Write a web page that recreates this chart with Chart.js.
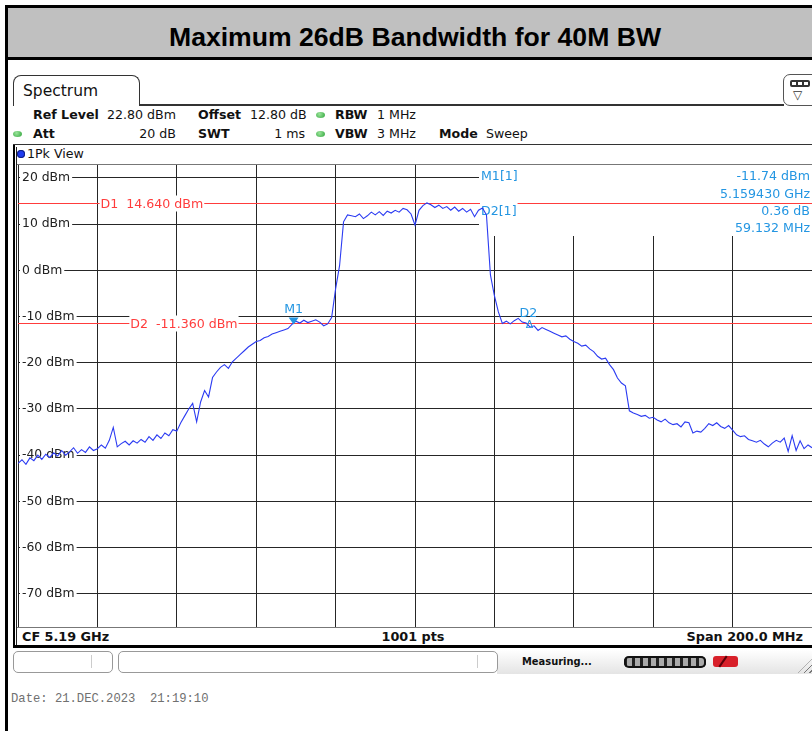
<!DOCTYPE html>
<html>
<head>
<meta charset="utf-8">
<script src="https://cdn.jsdelivr.net/npm/chart.js@4.4.0/dist/chart.umd.min.js"></script>
<style>
  body { margin: 0; width: 812px; height: 731px; overflow: hidden; background: #fff; position: relative; font-family: "DejaVu Sans", sans-serif; color: #111; }
  .abs { position: absolute; }
  #frame { left: 5px; top: 5px; width: 830px; height: 760px; border-left: 3px solid #000; border-top: 3px solid #000; }
  #titlebar { left: 8px; top: 8px; width: 814px; height: 49px; background: #c0c0c0; border-bottom: 3px solid #000;
    font: bold 26.6px "Liberation Sans", Arial, sans-serif; text-align: center; line-height: 59px; color: #000; }
  #tab { left: 13px; top: 75px; width: 125px; height: 30px; border: 1.5px solid #333; border-bottom: none; border-radius: 8px 8px 0 0; }
  #tab span { position: absolute; left: 9px; top: 6px; font-size: 15.5px; }
  .hl { height: 0; border-top: 2px solid #333; }
  .row { font-size: 12.6px; white-space: nowrap; line-height: 16px; }
  .row b { font-weight: bold; }
  .dot { width: 9px; height: 6px; border-radius: 50%; background: radial-gradient(circle at 40% 35%, #9be59b, #2ea33a); }
  #icon { left: 783px; top: 74px; width: 34px; height: 30px; border: 1.5px solid #555; border-radius: 7px; background: #fff; }
  .foot { font-weight: bold; font-size: 12.8px; white-space: nowrap; line-height: 16px; }
  .sbox { border: 1px solid #999; border-radius: 5px; background: #fff; height: 20px; top: 651px; }
  #date { left: 11px; top: 692px; font: 12.2px "Liberation Mono", monospace; color: #707070; white-space: pre; }
</style>
</head>
<body>
<div id="frame" class="abs"></div>
<div id="titlebar" class="abs">Maximum 26dB Bandwidth for 40M BW</div>

<div id="tab" class="abs"><span>Spectrum</span></div>
<div class="abs hl" style="left:139px; top:104px; width:645px;"></div>
<div id="icon" class="abs">
  <div class="abs" style="left:6px; top:5px; width:20px; height:7px; background:#333; border-radius:2px;"></div>
  <div class="abs" style="left:8px; top:7px; width:4px; height:3px; background:#fff;"></div>
  <div class="abs" style="left:14px; top:7px; width:4px; height:3px; background:#fff;"></div>
  <div class="abs" style="left:20px; top:7px; width:4px; height:3px; background:#fff;"></div>
  <div class="abs" style="left:9px; top:13px; font-size:12px; color:#333;">▽</div>
</div>

<div class="abs row" style="left:33px; top:107px;"><b>Ref Level</b></div>
<div class="abs row" style="left:107px; top:107px;">22.80 dBm</div>
<div class="abs row" style="left:198px; top:107px;"><b>Offset</b></div>
<div class="abs row" style="left:250px; top:107px;">12.80 dB</div>
<div class="abs dot" style="left:316px; top:112px;"></div>
<div class="abs row" style="left:335px; top:107px;"><b>RBW</b></div>
<div class="abs row" style="left:377px; top:107px;">1 MHz</div>

<div class="abs dot" style="left:13px; top:131px;"></div>
<div class="abs row" style="left:33px; top:126px;"><b>Att</b></div>
<div class="abs row" style="left:116px; top:126px; width:60px; text-align:right;">20 dB</div>
<div class="abs row" style="left:198px; top:126px;"><b>SWT</b></div>
<div class="abs row" style="left:245px; top:126px; width:60px; text-align:right;">1 ms</div>
<div class="abs dot" style="left:316px; top:131px;"></div>
<div class="abs row" style="left:335px; top:126px;"><b>VBW</b></div>
<div class="abs row" style="left:377px; top:126px;">3 MHz</div>
<div class="abs row" style="left:439px; top:126px;"><b>Mode</b></div>
<div class="abs row" style="left:486px; top:126px;">Sweep</div>

<div class="abs hl" style="left:13px; top:144px; width:820px; border-top-width:1.5px;"></div>
<div class="abs" style="left:13px; top:145px; width:2px; height:502px; background:#000;"></div>
<div class="abs" style="left:16px; top:147px; width:1px; height:500px; background:#222;"></div>
<div class="abs" style="left:17px; top:150px; width:8px; height:8px; border-radius:50%; background:#1f3cf0; box-shadow: inset 0 0 0 1px #102080;"></div>
<div class="abs row" style="left:27px; top:146px;">1Pk View</div>
<div class="abs" style="left:17px; top:164px; width:800px; height:1px; background:#777;"></div>

<div class="abs" style="left:18px; top:165px; width:794px; height:462px;">
  <canvas id="spec" width="794" height="462"></canvas>
</div>

<div class="abs" style="left:17px; top:627px; width:800px; height:1px; background:#777;"></div>
<div class="abs foot" style="left:22px; top:629px;">CF 5.19 GHz</div>
<div class="abs foot" style="left:313px; top:629px; width:200px; text-align:center;">1001 pts</div>
<div class="abs foot" style="left:603px; top:629px; width:200px; text-align:right;">Span 200.0 MHz</div>
<div class="abs" style="left:13px; top:645px; width:820px; height:3px; background:#000;"></div>

<div class="abs" style="left:497px; top:650px; width:320px; height:24px; background:linear-gradient(#ffffff, #e4e4e4);"></div>
<div class="abs sbox" style="left:13px; width:98px;"></div>
<div class="abs" style="left:91px; top:655px; width:1px; height:13px; background:#ccc;"></div>
<div class="abs sbox" style="left:118px; width:378px;"></div>
<div class="abs" style="left:477px; top:655px; width:1px; height:13px; background:#ccc;"></div>
<div class="abs" style="left:522px; top:655px; font: bold 11px 'DejaVu Sans Condensed', 'DejaVu Sans', sans-serif; white-space:nowrap;">Measuring...</div>
<div class="abs" style="left:624px; top:656px; width:82px; height:12px; border-radius:5px; background:repeating-linear-gradient(90deg, #222 0 3px, #aaa 3px 8px); box-shadow: inset 0 0 0 2px #111;"></div>
<div class="abs" style="left:713px; top:656px; width:25px; height:11px; border-radius:3px; background:#d8202a;"></div>
<div class="abs" style="left:722px; top:655px; width:2px; height:13px; background:#5a0008; transform:rotate(35deg);"></div>
<div class="abs" style="left:798px; top:657px; width:16px; height:16px; background:repeating-linear-gradient(135deg, transparent 0 3px, #777 3px 4px); clip-path: polygon(100% 0, 100% 100%, 0 100%);"></div>

<div id="date" class="abs">Date: 21.DEC.2023  21:19:10</div>

<script>
// sweep: CF 5190 MHz, span 200 MHz
const startMHz = 5090;
const stepMHz = 1;
const spanMHz = 200;
const refLevel = 22.8;

// trace level, one value per MHz from 5090 to 5290
const traceDbm = [
  -41.8, -41.0, -42.0, -40.6, -41.2, -40.0, -40.9, -39.8, -40.5, -39.5,
  -40.2, -39.0, -40.0, -39.3, -38.4, -39.6, -38.8, -39.4, -38.2, -39.0,
  -38.6, -37.8, -38.5, -36.8, -34.0, -38.2, -37.5, -37.0, -37.8, -36.9,
  -37.4, -36.6, -37.2, -36.0, -36.8, -35.6, -36.4, -35.2, -35.8, -34.5,
  -34.8, -33.0, -31.5, -30.0, -28.8, -32.8, -28.5, -26.0, -27.4, -23.2,
  -22.0, -21.0, -20.4, -21.2, -19.8, -19.0, -18.2, -17.4, -16.6, -16.0,
  -15.4, -15.2, -14.6, -14.3, -13.8, -13.5, -13.2, -12.9, -12.6, -11.7,
  -11.0, -11.4, -10.8, -11.3, -11.0, -10.7, -11.2, -12.0, -11.6, -10.2,
  -4.0, 1.0, 10.5, 12.0, 11.8, 11.6, 12.2, 11.2, 11.8, 12.6,
  12.0, 12.7, 11.9, 12.8, 12.4, 13.0, 12.6, 13.4, 13.1, 12.2,
  9.8, 13.0, 14.0, 14.6, 14.2, 13.6, 14.1, 13.4, 13.8, 13.0,
  13.7, 12.8, 13.4, 12.6, 13.2, 11.6, 13.0, 13.5, 12.0, -1.0,
  -5.5, -9.0, -11.5, -11.0, -11.6, -10.9, -10.4, -11.2, -11.4, -12.3,
  -12.0, -13.0, -12.4, -12.8, -13.2, -13.6, -14.0, -14.4, -14.2, -14.9,
  -15.4, -15.8, -16.4, -16.2, -17.0, -17.6, -18.6, -19.2, -19.0, -20.4,
  -21.5, -23.3, -24.4, -25.0, -30.4, -30.9, -31.2, -31.6, -31.4, -32.0,
  -31.8, -32.4, -32.8, -32.2, -33.0, -33.4, -33.2, -33.9, -32.8, -33.0,
  -35.2, -34.8, -35.0, -34.2, -33.2, -33.6, -33.0, -33.8, -34.2, -33.6,
  -34.6, -35.6, -36.0, -35.8, -36.6, -36.9, -37.2, -36.8, -37.6, -38.2,
  -37.4, -36.8, -37.2, -36.3, -39.2, -35.8, -39.0, -36.9, -38.6, -37.8,
  -38.4
];

const freqTicks = [5090, 5110, 5130, 5150, 5170, 5190, 5210, 5230, 5250, 5270, 5290];
const levelTicks = [20, 10, 0, -10, -20, -30, -40, -50, -60, -70];

const displayLines = [
  { name: "D1", level: 14.64, labelFreq: 5110.8 },
  { name: "D2", level: -11.36, labelFreq: 5118.3 }
];
const markerM1 = { name: "M1", freq: 5159.43, level: -11.74 };
const markerD2 = { name: "D2", freq: 5218.562, level: -11.38 };
const markerInfo = [
  ["M1[1]", "-11.74 dBm"],
  ["", "5.159430 GHz"],
  ["D2[1]", "0.36 dB"],
  ["", "59.132 MHz"]
];

const traceColor = "#2b3bf2";
const gridColor = "#262626";
const lineRed = "#ff3c3c";
const markerBlue = "#2496e2";
const uiFont = '12.6px "DejaVu Sans"';

const points = traceDbm.map((v, i) => ({ x: startMHz + i * stepMHz, y: v }));

function labelWithBack(ctx, text, x, y, color) {
  const w = ctx.measureText(text).width;
  ctx.fillStyle = "#fff";
  ctx.fillRect(x - 1, y - 8, w + 2, 16);
  ctx.fillStyle = color;
  ctx.fillText(text, x, y + 1);
}

const overlay = {
  id: "overlay",
  beforeDatasetsDraw(chart) {
    const { ctx, chartArea: a, scales: { x, y } } = chart;
    ctx.save();
    ctx.font = uiFont;
    ctx.textBaseline = "middle";

    // marker info field hides the grid in the upper right corner
    const boxLeft = a.right - 333;
    ctx.fillStyle = "#fff";
    ctx.fillRect(boxLeft, a.top, a.right - boxLeft, 71);

    displayLines.forEach(d => {
      const py = Math.round(y.getPixelForValue(d.level)) + 0.5;
      ctx.strokeStyle = lineRed;
      ctx.lineWidth = 1;
      ctx.beginPath();
      ctx.moveTo(a.left, py);
      ctx.lineTo(a.right, py);
      ctx.stroke();
      ctx.textAlign = "left";
      labelWithBack(ctx, `${d.name}  ${d.level.toFixed(3)} dBm`, x.getPixelForValue(d.labelFreq), py, lineRed);
    });

    markerInfo.forEach(([left, right], i) => {
      const py = a.top + 11 + i * 17.4;
      if (left) {
        ctx.textAlign = "left";
        labelWithBack(ctx, left, boxLeft + 2, py, markerBlue);
      }
      ctx.textAlign = "right";
      ctx.fillStyle = markerBlue;
      ctx.fillText(right, a.right - 2, py + 1);
    });
    ctx.restore();
  },
  afterDatasetsDraw(chart) {
    const { ctx, scales: { x, y } } = chart;
    ctx.save();
    ctx.font = uiFont;
    ctx.textAlign = "center";
    ctx.textBaseline = "middle";

    const mx = x.getPixelForValue(markerM1.freq);
    const my = y.getPixelForValue(markerM1.level);
    ctx.fillStyle = markerBlue;
    ctx.beginPath();
    ctx.moveTo(mx - 5, my - 7);
    ctx.lineTo(mx + 5, my - 7);
    ctx.lineTo(mx, my);
    ctx.closePath();
    ctx.fill();
    ctx.fillText(markerM1.name, mx, my - 15);

    const dx = x.getPixelForValue(markerD2.freq);
    const dy = y.getPixelForValue(markerD2.level);
    ctx.fillText(markerD2.name, dx, dy - 9);
    ctx.font = '11px "DejaVu Sans"';
    ctx.fillText("Δ", dx + 1, dy + 2);
    ctx.restore();
  }
};

new Chart(document.getElementById("spec"), {
  type: "line",
  data: {
    datasets: [{
      data: points,
      borderColor: traceColor,
      borderWidth: 1.1,
      pointRadius: 0,
      tension: 0,
      fill: false
    }]
  },
  options: {
    responsive: false,
    animation: false,
    events: [],
    layout: { padding: 0 },
    plugins: { legend: { display: false }, tooltip: { enabled: false } },
    scales: {
      x: {
        type: "linear",
        min: startMHz,
        max: startMHz + spanMHz,
        afterBuildTicks: s => { s.ticks = freqTicks.map(value => ({ value })); },
        afterFit: s => { s.height = 0; s.paddingLeft = 0; s.paddingRight = 0; },
        ticks: { display: false },
        grid: { color: gridColor, lineWidth: 1, drawTicks: false },
        border: { display: false }
      },
      y: {
        min: refLevel - 100,
        max: refLevel,
        afterBuildTicks: s => { s.ticks = levelTicks.map(value => ({ value })); },
        afterFit: s => { s.width = 0; s.paddingTop = 0; s.paddingBottom = 0; },
        ticks: {
          mirror: true,
          padding: 4,
          color: "#222",
          font: { family: "DejaVu Sans", size: 12.4 },
          showLabelBackdrop: true,
          backdropColor: "#fff",
          backdropPadding: { top: 0, bottom: 0, left: 2, right: 2 },
          callback: v => `${v} dBm`
        },
        grid: { color: gridColor, lineWidth: 1, drawTicks: false },
        border: { display: false }
      }
    }
  },
  plugins: [overlay]
});
</script>
</body>
</html>
